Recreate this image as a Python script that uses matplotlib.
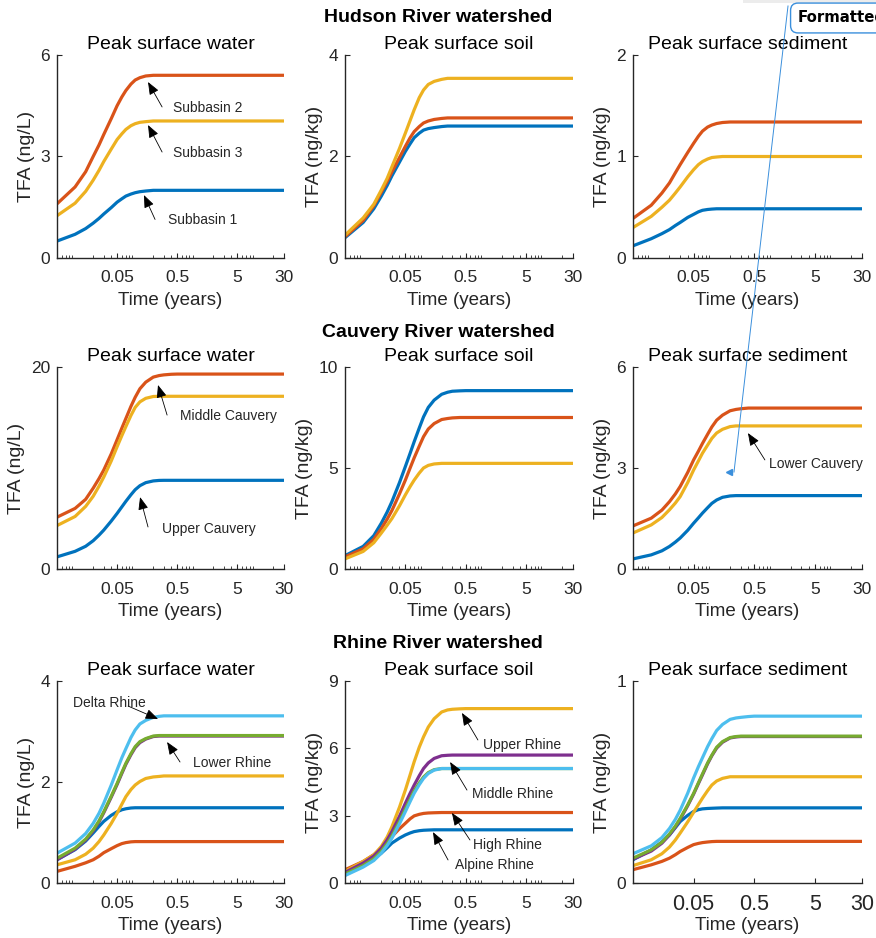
import numpy as np
import matplotlib.pyplot as plt
from matplotlib.lines import Line2D
from matplotlib.patches import Rectangle
from matplotlib.ticker import FixedLocator, LogLocator, NullFormatter

plt.rcParams['font.family'] = ['Liberation Sans', 'DejaVu Sans']

# sampling times (years)
t = [0.005, 0.01, 0.015, 0.02, 0.025, 0.03, 0.04, 0.05, 0.06, 0.07,
     0.085, 0.1, 0.12, 0.15, 0.2, 0.25, 0.3, 0.4, 0.5, 30]

xticks = [0.05, 0.5, 5, 30]
xtick_labels = ['0.05', '0.5', '5', '30']

# MATLAB default colour order
blue, orange, yellow = '#0072BD', '#D95319', '#EDB120'
purple, green, lblue = '#7E2F8E', '#77AC30', '#4DBEEE'

# --- Hudson River watershed (Subbasin 1, 2, 3) ---
hudson_water = [
    [0.50, 0.70, 0.87, 1.03, 1.17, 1.30, 1.49, 1.65, 1.75, 1.83, 1.89, 1.93, 1.96, 1.98, 2.00, 2.00, 2.00, 2.00, 2.00, 2.00],
    [1.60, 2.10, 2.55, 3.00, 3.34, 3.65, 4.12, 4.50, 4.76, 4.95, 5.14, 5.26, 5.33, 5.38, 5.40, 5.40, 5.40, 5.40, 5.40, 5.40],
    [1.25, 1.62, 1.97, 2.30, 2.59, 2.85, 3.22, 3.50, 3.67, 3.80, 3.91, 3.97, 4.01, 4.03, 4.05, 4.05, 4.05, 4.05, 4.05, 4.05],
]
hudson_soil = [
    [0.40, 0.70, 0.97, 1.22, 1.43, 1.62, 1.89, 2.10, 2.25, 2.37, 2.46, 2.52, 2.55, 2.57, 2.59, 2.60, 2.60, 2.60, 2.60, 2.60],
    [0.42, 0.74, 1.03, 1.30, 1.51, 1.70, 1.98, 2.20, 2.37, 2.49, 2.59, 2.66, 2.70, 2.73, 2.75, 2.76, 2.76, 2.76, 2.76, 2.76],
    [0.45, 0.79, 1.06, 1.34, 1.57, 1.80, 2.16, 2.46, 2.71, 2.92, 3.16, 3.31, 3.42, 3.48, 3.52, 3.54, 3.54, 3.54, 3.54, 3.54],
]
hudson_sed = [
    [0.12, 0.19, 0.24, 0.28, 0.32, 0.35, 0.40, 0.43, 0.455, 0.47, 0.478, 0.482, 0.485, 0.485, 0.485, 0.485, 0.485, 0.485, 0.485, 0.485],
    [0.39, 0.52, 0.64, 0.74, 0.84, 0.92, 1.04, 1.13, 1.20, 1.25, 1.29, 1.31, 1.325, 1.335, 1.34, 1.34, 1.34, 1.34, 1.34, 1.34],
    [0.30, 0.41, 0.50, 0.57, 0.64, 0.70, 0.80, 0.87, 0.92, 0.95, 0.975, 0.99, 0.995, 1.00, 1.00, 1.00, 1.00, 1.00, 1.00, 1.00],
]

# --- Cauvery River watershed (Upper, Middle, Lower) ---
cauvery_water = [
    [1.20, 1.75, 2.25, 2.80, 3.35, 3.85, 4.75, 5.50, 6.15, 6.70, 7.35, 7.85, 8.25, 8.55, 8.72, 8.77, 8.78, 8.78, 8.78, 8.78],
    [5.13, 6.00, 6.90, 8.00, 8.95, 9.80, 11.4, 12.8, 13.95, 14.9, 16.1, 17.0, 17.85, 18.5, 19.0, 19.15, 19.22, 19.28, 19.3, 19.3],
    [4.30, 5.20, 6.20, 7.20, 8.20, 9.10, 10.7, 12.1, 13.2, 14.1, 15.2, 16.0, 16.55, 16.9, 17.08, 17.1, 17.1, 17.1, 17.1, 17.1],
]
cauvery_soil = [
    [0.66, 1.12, 1.65, 2.27, 2.82, 3.34, 4.28, 5.07, 5.73, 6.30, 6.98, 7.53, 8.00, 8.36, 8.65, 8.75, 8.80, 8.82, 8.83, 8.83],
    [0.60, 1.00, 1.47, 2.00, 2.47, 2.90, 3.72, 4.40, 5.00, 5.50, 6.08, 6.55, 6.93, 7.20, 7.40, 7.45, 7.48, 7.50, 7.50, 7.50],
    [0.50, 0.87, 1.30, 1.78, 2.17, 2.50, 3.13, 3.67, 4.08, 4.40, 4.75, 5.00, 5.13, 5.20, 5.23, 5.23, 5.23, 5.23, 5.23, 5.23],
]
cauvery_sed = [
    [0.30, 0.42, 0.54, 0.67, 0.80, 0.92, 1.15, 1.36, 1.52, 1.66, 1.82, 1.95, 2.05, 2.13, 2.17, 2.18, 2.18, 2.18, 2.18, 2.18],
    [1.28, 1.51, 1.75, 2.00, 2.23, 2.45, 2.87, 3.24, 3.50, 3.73, 4.00, 4.22, 4.42, 4.57, 4.70, 4.74, 4.76, 4.78, 4.78, 4.78],
    [1.07, 1.31, 1.53, 1.76, 1.96, 2.15, 2.57, 2.94, 3.21, 3.44, 3.68, 3.88, 4.04, 4.15, 4.23, 4.25, 4.25, 4.25, 4.25, 4.25],
]

# --- Rhine River watershed (Alpine, High, Upper, Middle, Lower, Delta) ---
rhine_water = [
    [0.46, 0.66, 0.83, 0.99, 1.12, 1.22, 1.34, 1.41, 1.45, 1.47, 1.485, 1.49, 1.49, 1.49, 1.49, 1.49, 1.49, 1.49, 1.49, 1.49],
    [0.23, 0.33, 0.40, 0.46, 0.53, 0.60, 0.68, 0.74, 0.78, 0.80, 0.815, 0.82, 0.82, 0.82, 0.82, 0.82, 0.82, 0.82, 0.82, 0.82],
    [0.36, 0.46, 0.57, 0.69, 0.82, 0.95, 1.18, 1.38, 1.56, 1.71, 1.85, 1.94, 2.01, 2.07, 2.10, 2.11, 2.12, 2.12, 2.12, 2.12],
    [0.46, 0.67, 0.85, 1.03, 1.21, 1.39, 1.70, 1.95, 2.17, 2.35, 2.54, 2.68, 2.78, 2.85, 2.90, 2.91, 2.91, 2.91, 2.91, 2.91],
    [0.49, 0.69, 0.87, 1.05, 1.23, 1.41, 1.72, 1.97, 2.19, 2.37, 2.56, 2.70, 2.80, 2.86, 2.91, 2.92, 2.92, 2.92, 2.92, 2.92],
    [0.59, 0.79, 0.98, 1.18, 1.38, 1.58, 1.94, 2.24, 2.48, 2.66, 2.88, 3.03, 3.15, 3.22, 3.28, 3.30, 3.31, 3.31, 3.31, 3.31],
]
rhine_soil = [
    [0.47, 0.81, 1.08, 1.33, 1.57, 1.78, 2.00, 2.14, 2.23, 2.29, 2.33, 2.35, 2.36, 2.37, 2.37, 2.37, 2.37, 2.37, 2.37, 2.37],
    [0.59, 0.96, 1.26, 1.55, 1.82, 2.07, 2.42, 2.66, 2.86, 2.99, 3.06, 3.10, 3.12, 3.13, 3.14, 3.14, 3.14, 3.14, 3.14, 3.14],
    [0.52, 0.96, 1.25, 1.63, 2.05, 2.51, 3.38, 4.14, 4.82, 5.40, 6.05, 6.51, 6.95, 7.32, 7.62, 7.71, 7.74, 7.76, 7.77, 7.77],
    [0.47, 0.89, 1.20, 1.55, 1.92, 2.29, 2.97, 3.55, 4.00, 4.36, 4.78, 5.10, 5.35, 5.55, 5.67, 5.69, 5.70, 5.70, 5.70, 5.70],
    [0.40, 0.78, 1.08, 1.42, 1.76, 2.10, 2.75, 3.30, 3.74, 4.10, 4.46, 4.72, 4.92, 5.05, 5.10, 5.10, 5.10, 5.10, 5.10, 5.10],
    [0.33, 0.71, 1.00, 1.33, 1.67, 2.00, 2.64, 3.18, 3.63, 4.00, 4.38, 4.66, 4.88, 5.03, 5.10, 5.10, 5.10, 5.10, 5.10, 5.10],
]
rhine_sed = [
    [0.115, 0.164, 0.203, 0.238, 0.274, 0.304, 0.335, 0.354, 0.363, 0.367, 0.369, 0.370, 0.371, 0.372, 0.372, 0.372, 0.372, 0.372, 0.372, 0.372],
    [0.066, 0.090, 0.107, 0.123, 0.140, 0.156, 0.176, 0.190, 0.196, 0.200, 0.203, 0.205, 0.206, 0.206, 0.206, 0.206, 0.206, 0.206, 0.206, 0.206],
    [0.086, 0.115, 0.145, 0.178, 0.213, 0.247, 0.303, 0.350, 0.388, 0.420, 0.457, 0.485, 0.505, 0.518, 0.526, 0.526, 0.526, 0.526, 0.526, 0.526],
    [0.118, 0.158, 0.197, 0.238, 0.277, 0.315, 0.383, 0.440, 0.492, 0.535, 0.590, 0.630, 0.668, 0.697, 0.718, 0.723, 0.725, 0.725, 0.725, 0.725],
    [0.123, 0.164, 0.202, 0.243, 0.282, 0.320, 0.387, 0.444, 0.496, 0.540, 0.594, 0.633, 0.672, 0.700, 0.720, 0.725, 0.727, 0.727, 0.727, 0.727],
    [0.145, 0.184, 0.225, 0.270, 0.315, 0.360, 0.445, 0.520, 0.576, 0.620, 0.675, 0.715, 0.755, 0.785, 0.810, 0.817, 0.820, 0.824, 0.826, 0.826],
]

three = [blue, orange, yellow]
six = [blue, orange, yellow, purple, green, lblue]

row_titles = ['Hudson River watershed', 'Cauvery River watershed', 'Rhine River watershed']
col_titles = ['Peak surface water', 'Peak surface soil', 'Peak surface sediment']
col_ylabels = ['TFA (ng/L)', 'TFA (ng/kg)', 'TFA (ng/kg)']

# (series, y ticks, colours)
panels = [
    [(hudson_water, [0, 3, 6], three), (hudson_soil, [0, 2, 4], three),
     (hudson_sed, [0, 1, 2], three)],
    [(cauvery_water, [0, 20], three), (cauvery_soil, [0, 5, 10], three),
     (cauvery_sed, [0, 3, 6], three)],
    [(rhine_water, [0, 2, 4], six), (rhine_soil, [0, 3, 6, 9], six),
     (rhine_sed, [0, 1], six)],
]

# annotations: (row, col, label, text pos, arrow tail, arrow head) in axes fraction
notes = [
    (0, 0, 'Subbasin 2', (0.511, 0.739), (0.463, 0.744), (0.401, 0.867)),
    (0, 0, 'Subbasin 3', (0.511, 0.517), (0.463, 0.522), (0.401, 0.655)),
    (0, 0, 'Subbasin 1', (0.489, 0.187), (0.432, 0.190), (0.383, 0.310)),
    (1, 0, 'Middle Cauvery', (0.542, 0.757), (0.485, 0.762), (0.445, 0.911)),
    (1, 0, 'Upper Cauvery', (0.463, 0.198), (0.401, 0.208), (0.366, 0.356)),
    (1, 2, 'Lower Cauvery', (0.594, 0.520), (0.576, 0.540), (0.502, 0.673)),
    (2, 0, 'Delta Rhine', (0.070, 0.891), (0.313, 0.876), (0.445, 0.812)),
    (2, 0, 'Lower Rhine', (0.599, 0.594), (0.542, 0.599), (0.485, 0.698)),
    (2, 1, 'Upper Rhine', (0.605, 0.683), (0.583, 0.708), (0.513, 0.842)),
    (2, 1, 'Middle Rhine', (0.557, 0.441), (0.535, 0.460), (0.461, 0.599)),
    (2, 1, 'High Rhine', (0.561, 0.188), (0.548, 0.213), (0.469, 0.347)),
    (2, 1, 'Alpine Rhine', (0.482, 0.089), (0.452, 0.114), (0.386, 0.252)),
]

W, H = 876, 938
fig = plt.figure(figsize=(W / 100, H / 100), dpi=100)

col_left = [57, 345, 633]
col_width = [227, 228, 229]
row_top = [55, 367, 681]
row_height = [203, 202, 202]
row_title_y = [18, 332, 643]
dark = '#262626'

axes = {}
for r in range(3):
    fig.text(0.5, 1 - row_title_y[r] / H, row_titles[r], ha='center', va='center',
             fontsize=14, fontweight='bold')
    for c in range(3):
        data, yt, colors = panels[r][c]
        ax = fig.add_axes([col_left[c] / W, 1 - (row_top[r] + row_height[r]) / H,
                           col_width[c] / W, row_height[r] / H])
        axes[(r, c)] = ax
        for series, col in zip(data, colors):
            ax.plot(t, series, color=col, lw=2.3, solid_capstyle='butt')
        ax.set_xscale('log')
        ax.set_xlim(0.005, 30)
        ax.set_ylim(0, yt[-1])
        ax.xaxis.set_major_locator(FixedLocator(xticks))
        ax.set_xticklabels(xtick_labels)
        ax.xaxis.set_minor_locator(LogLocator(base=10, subs=np.arange(2, 10)))
        ax.xaxis.set_minor_formatter(NullFormatter())
        ax.set_yticks(yt)
        ax.set_yticklabels([str(v) for v in yt])
        for s in ['top', 'right']:
            ax.spines[s].set_visible(False)
        for s in ['left', 'bottom']:
            ax.spines[s].set_color(dark)
            ax.spines[s].set_linewidth(1.0)
        ax.tick_params(which='major', direction='in', length=3.5, width=0.8,
                       colors=dark, labelsize=12.5)
        ax.tick_params(which='minor', direction='in', length=2, width=0.6, colors=dark)
        ax.tick_params(axis='x', which='major', pad=9)
        ax.tick_params(axis='y', which='major', pad=5)
        if (r, c) == (2, 2):
            ax.tick_params(axis='x', which='major', labelsize=15.5, pad=8)
        ax.set_title(col_titles[c], fontsize=14, pad=4)
        ax.set_xlabel('Time (years)', fontsize=13.5, color=dark,
                      labelpad=1 if (r, c) == (2, 2) else 5)
        ax.set_ylabel(col_ylabels[c], fontsize=14, color=dark, labelpad=4)

for r, c, label, txt, tail, head in notes:
    ax = axes[(r, c)]
    ax.annotate('', xy=head, xytext=tail, xycoords='axes fraction',
                textcoords='axes fraction',
                arrowprops=dict(arrowstyle='-|>,head_length=0.55,head_width=0.22',
                                mutation_scale=14, color='k', lw=0.6,
                                shrinkA=0, shrinkB=0))
    ax.text(txt[0], txt[1], label, transform=ax.transAxes, fontsize=10,
            color=dark, ha='left', va='center')

# review-comment artefacts at the top right
fig.add_artist(Rectangle((743 / W, 1 - 3 / H), (W - 743) / W, 3 / H,
                         transform=fig.transFigure, color='#ececec', lw=0))
comment_blue = '#3a8fdc'
fig.add_artist(Line2D([788 / W, 734 / W], [1 - 6 / H, 1 - 472 / H],
                      transform=fig.transFigure, color=comment_blue, lw=0.7))
fig.add_artist(Line2D([729 / W], [1 - 472 / H], transform=fig.transFigure,
                      marker='<', ms=5, color=comment_blue, lw=0))
fig.text(798 / W, 1 - 18 / H, 'Formatted', fontsize=10.7, fontweight='bold',
         family='DejaVu Sans', ha='left', va='center',
         bbox=dict(boxstyle='round,pad=0.5,rounding_size=0.5', fc='white',
                   ec=comment_blue, lw=1))

fig.savefig('out.png', dpi=100)
